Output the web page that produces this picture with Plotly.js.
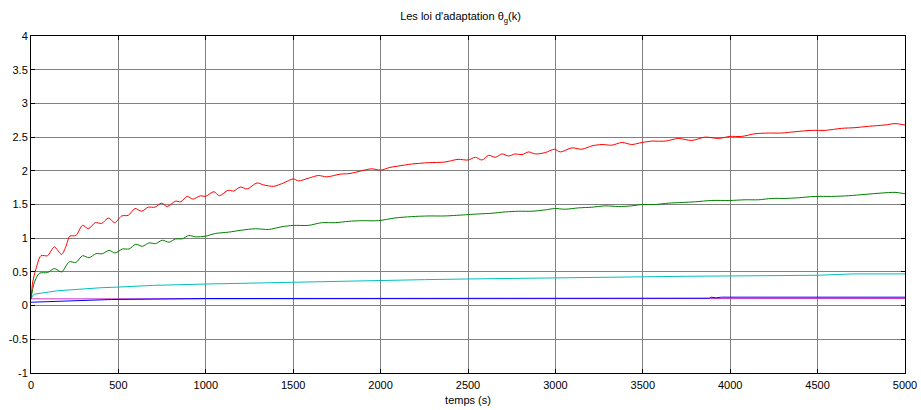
<!DOCTYPE html>
<html>
<head>
<meta charset="utf-8">
<script src="https://cdn.plot.ly/plotly-3.0.1.min.js"></script>
<style>html,body{margin:0;padding:0;background:#fff;}#chart{width:921px;height:410px;}</style>
</head>
<body>
<div id="chart"></div>
<script>
// Time samples and values
var tRed = [0,10,28,57,95,133,175,200,222,257,295,329,367,405,443,479,519,557,595,633,671,709,747,779,827,856,894,926,970,998,1046,1078,1127,1160,1198,1236,1293,1331,1388,1445,1500,1530,1587,1644,1692,1768,1825,1892,1949,2000,2053,2100,2176,2272,2367,2443,2500,2542,2580,2618,2656,2694,2732,2770,2809,2847,2885,2942,2995,3028,3094,3152,3209,3266,3323,3380,3437,3495,3552,3628,3704,3780,3857,3933,3998,4066,4143,4219,4295,4371,4467,4543,4638,4714,4790,4886,4943,5000];
var red = [0.1,0.35,0.54,0.74,0.74,0.87,0.76,0.88,1.03,1.04,1.19,1.14,1.23,1.22,1.30,1.23,1.33,1.34,1.44,1.40,1.46,1.46,1.52,1.47,1.55,1.54,1.62,1.58,1.63,1.62,1.69,1.63,1.71,1.70,1.76,1.73,1.82,1.79,1.77,1.82,1.88,1.85,1.89,1.93,1.91,1.95,1.96,2.00,2.03,2.01,2.05,2.07,2.10,2.12,2.13,2.17,2.16,2.20,2.16,2.23,2.20,2.25,2.22,2.25,2.24,2.28,2.25,2.27,2.32,2.28,2.34,2.32,2.37,2.39,2.38,2.42,2.39,2.42,2.44,2.44,2.48,2.45,2.50,2.48,2.51,2.51,2.55,2.56,2.56,2.58,2.60,2.60,2.63,2.64,2.66,2.68,2.70,2.68];

var tGreen = [0,19,48,95,133,175,219,257,295,333,371,409,447,481,523,561,599,637,675,713,751,789,827,865,903,941,998,1055,1131,1207,1283,1359,1436,1500,1587,1663,1740,1816,1892,1987,2082,2176,2272,2367,2500,2561,2637,2713,2790,2866,2942,2995,3056,3133,3209,3285,3361,3437,3495,3571,3647,3723,3800,3895,3998,4086,4162,4238,4314,4390,4486,4581,4676,4771,4867,4943,5000];
var green = [0.1,0.34,0.48,0.49,0.55,0.50,0.65,0.64,0.74,0.71,0.77,0.77,0.82,0.78,0.84,0.84,0.91,0.88,0.93,0.92,0.97,0.94,0.99,0.99,1.04,1.02,1.03,1.07,1.09,1.12,1.14,1.13,1.17,1.19,1.19,1.23,1.23,1.25,1.26,1.26,1.30,1.32,1.33,1.33,1.35,1.36,1.37,1.39,1.40,1.40,1.42,1.44,1.43,1.45,1.46,1.48,1.47,1.48,1.50,1.50,1.52,1.53,1.54,1.56,1.56,1.57,1.57,1.59,1.59,1.60,1.62,1.62,1.63,1.65,1.67,1.68,1.66];

var tCyan = [0,10,20,60,100,150,200,300,400,500,700,1000,1250,1500,1750,2000,2250,2500,2750,3000,3250,3500,3750,4000,4250,4500,4700,5000];
var cyan = [0.1,0.15,0.17,0.19,0.20,0.22,0.23,0.255,0.265,0.275,0.30,0.32,0.335,0.35,0.365,0.375,0.385,0.395,0.405,0.41,0.42,0.43,0.435,0.44,0.445,0.45,0.47,0.47];

var tMagenta = [0,2500,5000];
var magenta = [0.1,0.102,0.105];

var tBlue = [0,60,120,300,460,1000,2000,3000,3880,3890,3920,3950,5000];
var blue = [0.05,0.055,0.07,0.08,0.09,0.105,0.11,0.11,0.11,0.125,0.115,0.125,0.125];

var xTicks = [0,500,1000,1500,2000,2500,3000,3500,4000,4500,5000];
var yTicks = [-1,-0.5,0,0.5,1,1.5,2,2.5,3,3.5,4];

function line(x, y, color, smooth) {
  var ln = {color: color, width: 1};
  if (smooth) { ln.shape = 'spline'; ln.smoothing = 0.8; }
  return {x: x, y: y, type: 'scatter', mode: 'lines', line: ln, hoverinfo: 'skip', showlegend: false};
}

var data = [
  line(tMagenta, magenta, '#cc33cc', false),
  line(tBlue, blue, '#0000ff', false),
  line(tCyan, cyan, '#00bfbf', false),
  line(tGreen, green, '#008000', true),
  line(tRed, red, '#ff0000', true)
];

var fontFam = 'Liberation Sans, Arial, sans-serif';
var axisCommon = {
  showline: true, linecolor: '#000', linewidth: 1, mirror: 'ticks',
  ticks: 'inside', ticklen: 4, tickcolor: '#000', tickwidth: 1,
  showgrid: true, gridcolor: '#808080', gridwidth: 1,
  zeroline: false,
  tickfont: {family: fontFam, size: 11, color: '#000'}
};

var layout = {
  width: 921, height: 410,
  margin: {l: 31, r: 16, t: 36, b: 37},
  paper_bgcolor: '#fff', plot_bgcolor: '#fff',
  title: {text: "Les loi d'adaptation θ<sub>g</sub>(k)", x: 0.5, xanchor: 'center', y: 0.96, yanchor: 'middle',
          font: {family: fontFam, size: 11, color: '#000'}},
  xaxis: Object.assign({}, axisCommon, {
    range: [0, 5000], tickvals: xTicks, ticktext: xTicks.map(String), ticklabelstandoff: 2,
    title: {text: 'temps (s)', standoff: 6, font: {family: fontFam, size: 11, color: '#000'}}
  }),
  yaxis: Object.assign({}, axisCommon, {
    range: [-1, 4], tickvals: yTicks, ticktext: yTicks.map(String)
  })
};

Plotly.newPlot('chart', data, layout, {displayModeBar: false, staticPlot: true});
</script>
</body>
</html>
